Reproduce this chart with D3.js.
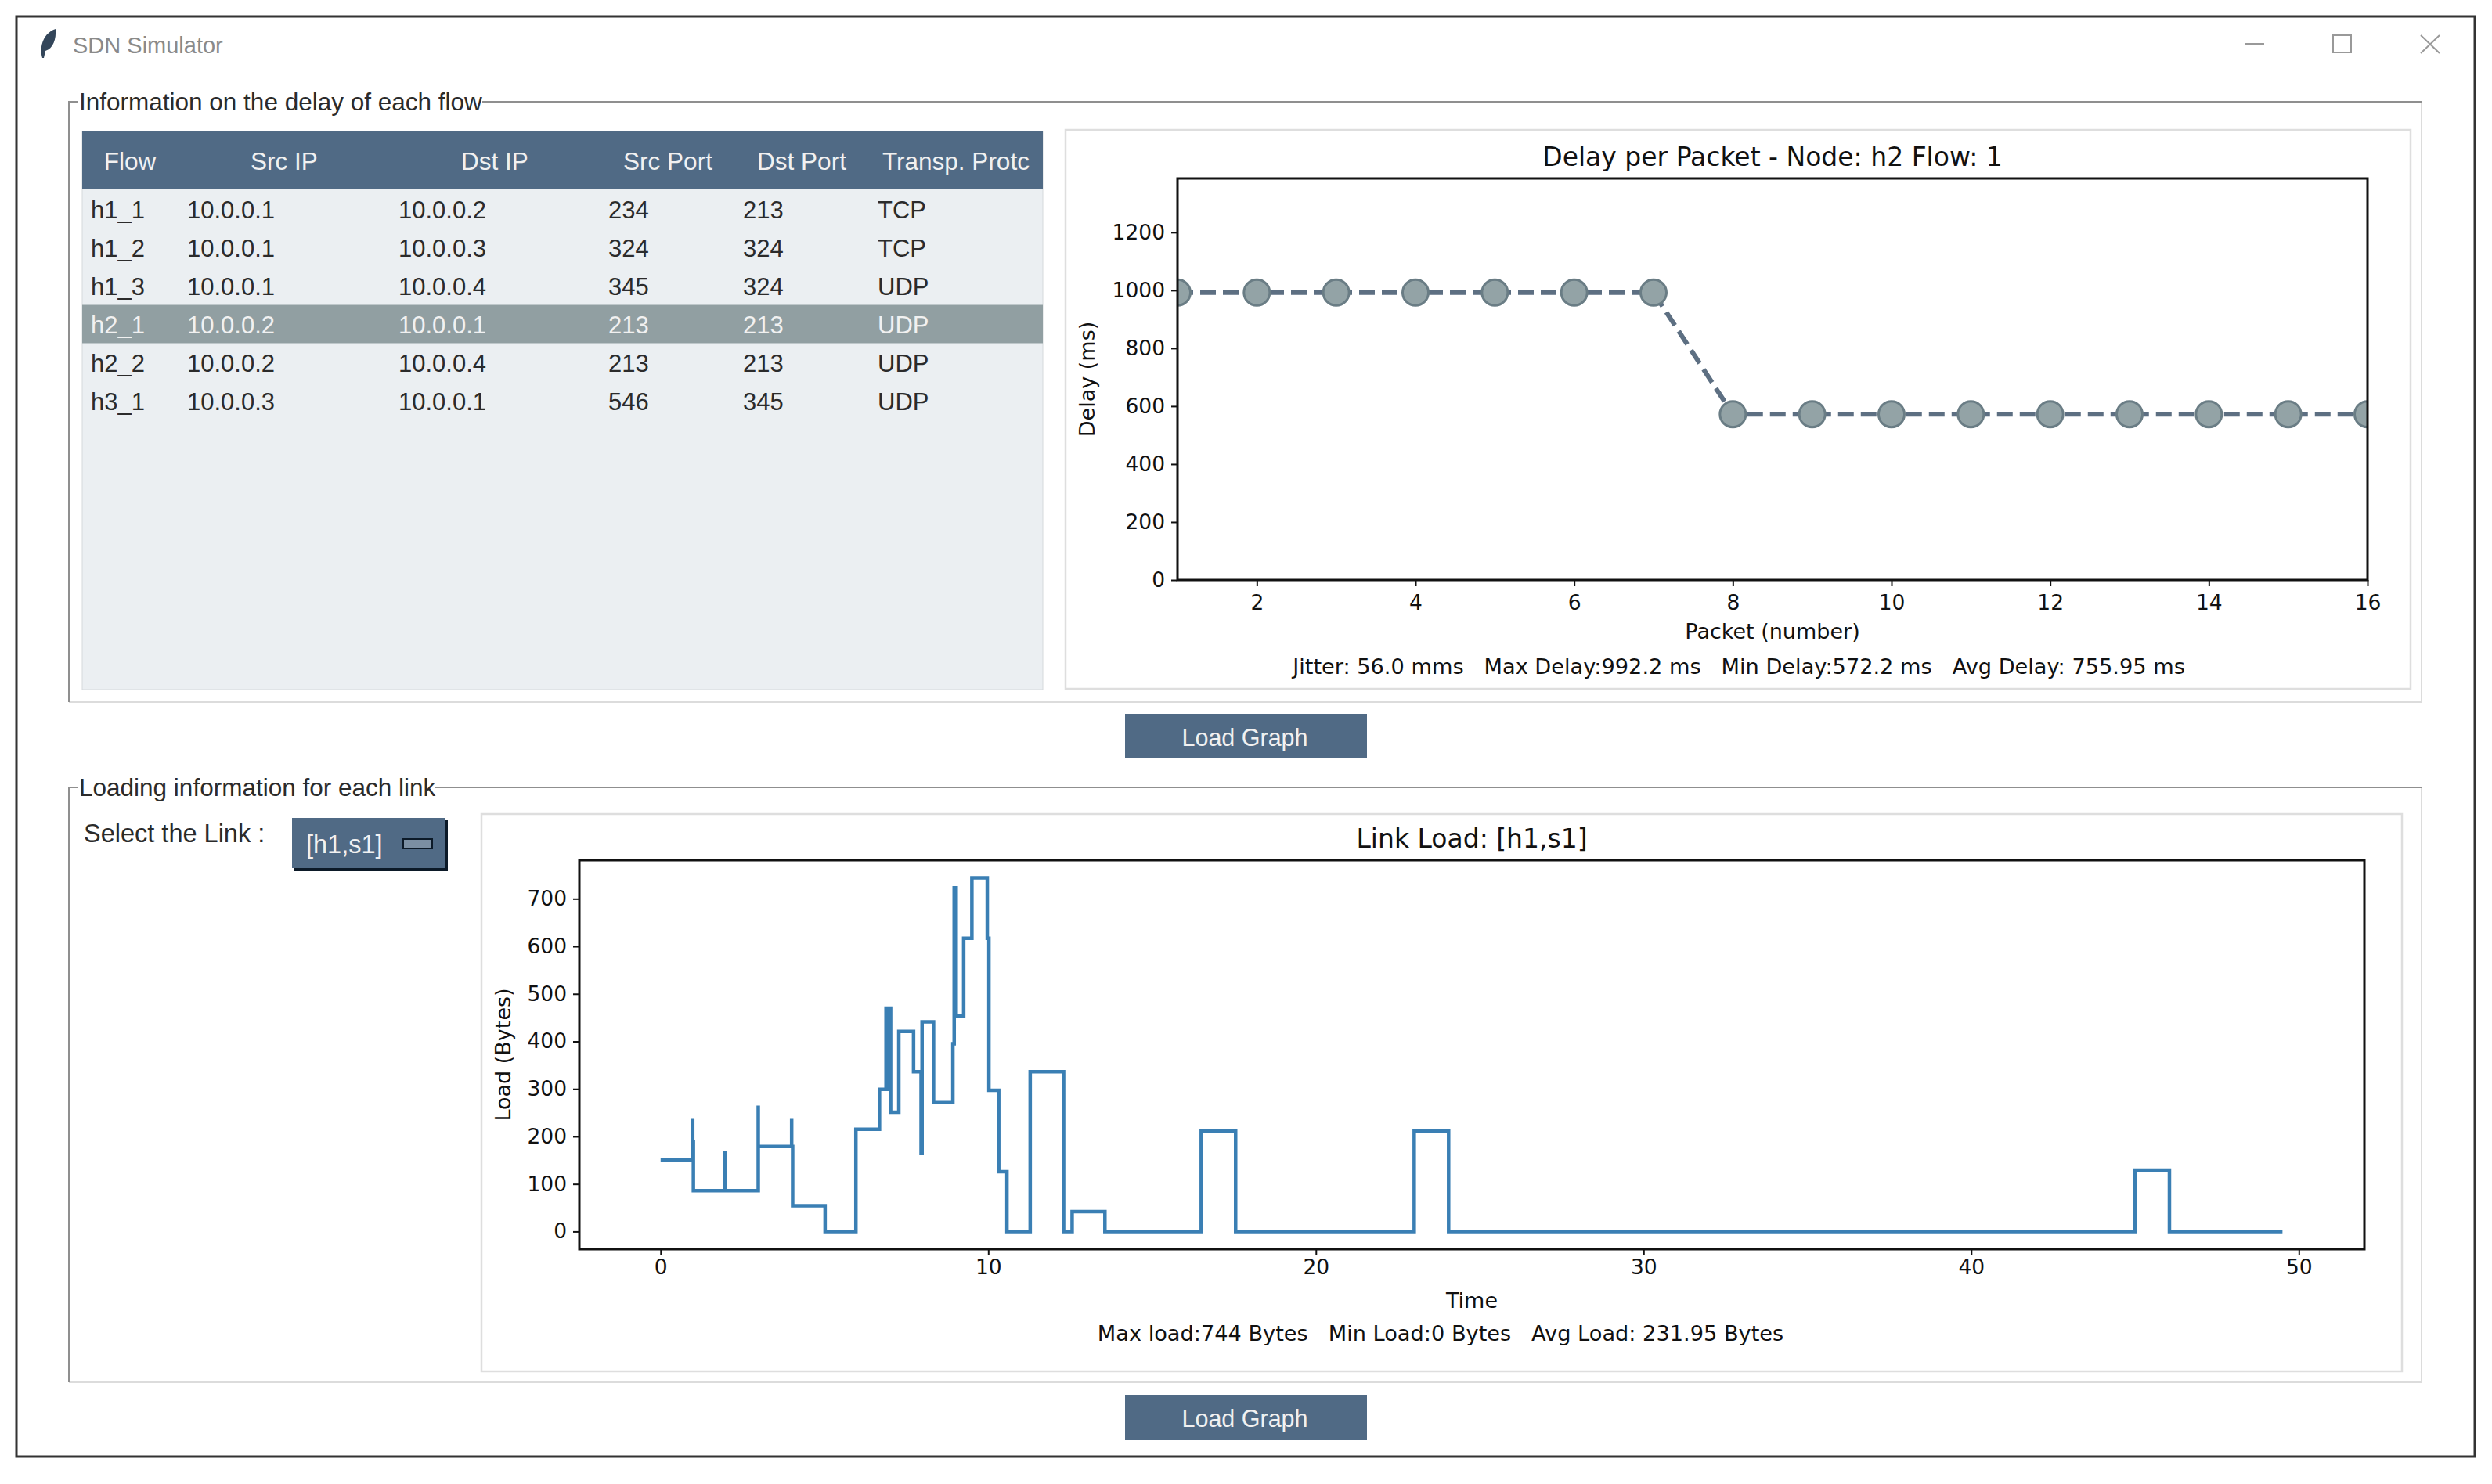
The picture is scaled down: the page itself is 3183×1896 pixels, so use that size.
<!DOCTYPE html>
<html>
<head>
<meta charset="utf-8">
<title>SDN Simulator</title>
<script src="https://cdn.jsdelivr.net/npm/d3@7"></script>
<style>
  html, body { margin: 0; padding: 0; background: #fff; overflow: hidden; }
  svg { display: block; }
  .ui { font-family: "Liberation Sans", Arial, sans-serif; }
  .mpl { font-family: "DejaVu Sans", sans-serif; fill: #111; }
</style>
</head>
<body>
<script>
// table
const tableColumns = ["Flow", "Src IP", "Dst IP", "Src Port", "Dst Port", "Transp. Protc"];
const tableRows = [
  ["h1_1", "10.0.0.1", "10.0.0.2", "234", "213", "TCP"],
  ["h1_2", "10.0.0.1", "10.0.0.3", "324", "324", "TCP"],
  ["h1_3", "10.0.0.1", "10.0.0.4", "345", "324", "UDP"],
  ["h2_1", "10.0.0.2", "10.0.0.1", "213", "213", "UDP"],
  ["h2_2", "10.0.0.2", "10.0.0.4", "213", "213", "UDP"],
  ["h3_1", "10.0.0.3", "10.0.0.1", "546", "345", "UDP"]
];
const selectedRow = 3;

// delay chart
const packets = [1, 2, 3, 4, 5, 6, 7, 8, 9, 10, 11, 12, 13, 14, 15, 16];
const delays = [992.2, 992.2, 992.2, 992.2, 992.2, 992.2, 992.2, 572.2, 572.2, 572.2, 572.2, 572.2, 572.2, 572.2, 572.2, 572.2];
const delayXTicks = [2, 4, 6, 8, 10, 12, 14, 16];
const delayYTicks = [0, 200, 400, 600, 800, 1000, 1200];
const delayStats = "Jitter: 56.0 mms   Max Delay:992.2 ms   Min Delay:572.2 ms   Avg Delay: 755.95 ms";

// load chart, drawn as steps
const loadTimes = [0, 0.98, 0.98, 1.0, 1.96, 1.96, 2.98, 2.98, 4.0, 4.0, 4.03, 5.02, 5.96, 6.68, 6.88, 6.92, 6.96, 7.02, 7.27, 7.72, 7.95, 7.98, 8.33, 8.92, 8.96, 9.02, 9.25, 9.5, 9.97, 10.02, 10.32, 10.57, 11.28, 12.3, 12.56, 13.56, 16.5, 17.55, 23.0, 24.05, 45.0, 46.05, 49.5];
const loadValues = [151, 237, 189, 86, 169, 86, 265, 179, 237, 179, 54, 0, 215, 299, 470, 299, 470, 251, 421, 336, 164, 441, 271, 395, 723, 454, 617, 744, 617, 297, 126, 0, 336, 0, 42, 0, 211, 0, 211, 0, 129, 0, 0];
const loadXTicks = [0, 10, 20, 30, 40, 50];
const loadYTicks = [0, 100, 200, 300, 400, 500, 600, 700];
const loadStats = "Max load:744 Bytes   Min Load:0 Bytes   Avg Load: 231.95 Bytes";

const W = 3183, H = 1896;
const svg = d3.select("body").append("svg").attr("width", W).attr("height", H)
  .attr("viewBox", `0 0 ${W} ${H}`);

const headerBlue = "#506a85";
const uiText = "#2b2b2b";

function text(g, x, y, str, size, anchor, fill, cls) {
  return g.append("text")
    .attr("class", cls || "ui")
    .attr("x", x).attr("y", y)
    .attr("dominant-baseline", "central")
    .attr("text-anchor", anchor || "start")
    .attr("font-size", size)
    .attr("fill", fill || uiText)
    .style("white-space", "pre")
    .text(str);
}

// window
svg.append("rect").attr("x", 21).attr("y", 21).attr("width", 3140).attr("height", 1840)
  .attr("fill", "#fff").attr("stroke", "#333").attr("stroke-width", 3);
text(svg, 93, 58, "SDN Simulator", 29, "start", "#8a8a8a");
svg.append("path")
  .attr("d", "M54 74 C50 58 56 42 71 37 C72 50 68 62 58 65 L56 74 Z")
  .attr("fill", "#33465a");
svg.append("path").attr("d", "M2868 56 H2892").attr("stroke", "#999").attr("stroke-width", 2);
svg.append("rect").attr("x", 2980).attr("y", 45).attr("width", 23).attr("height", 22)
  .attr("fill", "none").attr("stroke", "#999").attr("stroke-width", 2);
svg.append("path").attr("d", "M3092 45 L3116 68 M3116 45 L3092 68").attr("stroke", "#999").attr("stroke-width", 2);

// labelled frames
function frame(y0, y1, label, labelW) {
  svg.append("path")
    .attr("d", `M88 ${y1} H3093 V${y0}`)
    .attr("fill", "none").attr("stroke", "#dcdcdc").attr("stroke-width", 2);
  svg.append("path")
    .attr("d", `M100 ${y0} H88 V${y1} M${100 + labelW} ${y0} H3093`)
    .attr("fill", "none").attr("stroke", "#8f8f8f").attr("stroke-width", 2);
  text(svg, 101, y0, label, 31.5);
}
frame(130, 897, "Information on the delay of each flow", 516);
frame(1006, 1766, "Loading information for each link", 456);

function button(y0, y1) {
  svg.append("rect").attr("x", 1437).attr("y", y0).attr("width", 309).attr("height", y1 - y0)
    .attr("fill", headerBlue);
  text(svg, 1590, (y0 + y1) / 2 + 1, "Load Graph", 30.5, "middle", "#f1f1f1");
}
button(912, 969);
button(1782, 1840);

// table
const tableX = 105, tableW = 1227, headerY = 168, headerH = 74, bodyBottom = 881;
const colText = [116, 239, 509, 777, 949, 1121];
const colHead = [166, 363, 632, 853, 1024, 1127];
const rowY = d3.scaleBand().domain(d3.range(tableRows.length)).range([242, 242 + 49 * tableRows.length]);

svg.append("clipPath").attr("id", "tableClip").append("rect")
  .attr("x", tableX).attr("y", headerY).attr("width", tableW - 17).attr("height", bodyBottom - headerY);
svg.append("rect").attr("x", tableX).attr("y", headerY).attr("width", tableW).attr("height", bodyBottom - headerY)
  .attr("fill", "#ebeff2").attr("stroke", "#d5d9dc");
svg.append("rect").attr("x", tableX).attr("y", headerY).attr("width", tableW).attr("height", headerH)
  .attr("fill", headerBlue);
const heads = svg.append("g").attr("clip-path", "url(#tableClip)");
tableColumns.forEach((c, i) => {
  text(heads, colHead[i], headerY + headerH / 2 + 1, c, 31.5, i === 5 ? "start" : "middle", "#f1f1f1");
});
svg.append("g").selectAll("rect").data(tableRows).join("rect")
  .attr("x", tableX).attr("width", tableW)
  .attr("y", (d, i) => rowY(i) + 0.5).attr("height", rowY.bandwidth())
  .attr("fill", (d, i) => i === selectedRow ? "#919fa2" : "none");
svg.append("g").selectAll("g").data(tableRows).join("g")
  .attr("transform", (d, i) => `translate(0, ${rowY(i) + rowY.bandwidth() / 2 + 1.5})`)
  .each(function (row, i) {
    row.forEach((c, j) => {
      text(d3.select(this), colText[j], 0, c, 31, "start", i === selectedRow ? "#f1f1f1" : uiText);
    });
  });

// panel with axes around a plot, shared by both charts
function panel(box, plot, x, y, xTicks, yTicks, xPad, title, xLabel, yLabel, yLabelX, stats, statsX, statsY) {
  svg.append("rect").attr("x", box[0]).attr("y", box[1])
    .attr("width", box[2] - box[0]).attr("height", box[3] - box[1])
    .attr("fill", "#fff").attr("stroke", "#dedede").attr("stroke-width", 2.5);
  const g = svg.append("g").attr("class", "mpl");
  g.append("g").attr("transform", `translate(0, ${plot.bottom})`)
    .call(d3.axisBottom(x).tickValues(xTicks).tickSize(8).tickPadding(xPad).tickFormat(d3.format("d")));
  g.append("g").attr("transform", `translate(${plot.left}, 0)`)
    .call(d3.axisLeft(y).tickValues(yTicks).tickSize(8).tickPadding(8).tickFormat(d3.format("d")));
  g.selectAll(".domain").remove();
  g.selectAll(".tick line").attr("stroke", "#111").attr("stroke-width", 2);
  g.selectAll(".tick text").attr("font-family", "DejaVu Sans").attr("font-size", 26.5).attr("fill", "#111");
  text(g, (plot.left + plot.right) / 2, plot.top - 28, title, 33, "middle", "#111", "mpl");
  text(g, (plot.left + plot.right) / 2, plot.bottom + 65, xLabel, 27, "middle", "#111", "mpl");
  text(g, 0, 0, yLabel, 27, "middle", "#111", "mpl")
    .attr("transform", `translate(${yLabelX}, ${(plot.top + plot.bottom) / 2}) rotate(-90)`);
  text(g, statsX, statsY, stats, 27.2, "middle", "#111", "mpl");
  return g;
}

function frameOnTop(plot) {
  svg.append("rect").attr("x", plot.left).attr("y", plot.top)
    .attr("width", plot.right - plot.left).attr("height", plot.bottom - plot.top)
    .attr("fill", "none").attr("stroke", "#111").attr("stroke-width", 3);
}

// delay chart
const dp = { left: 1504, right: 3024, top: 228, bottom: 741 };
const dx = d3.scaleLinear().domain([1, 16]).range([dp.left, dp.right]);
const dy = d3.scaleLinear().domain([0, 1386]).range([dp.bottom, dp.top]);
panel([1361, 166, 3079, 880], dp, dx, dy, delayXTicks, delayYTicks, 11,
  "Delay per Packet - Node: h2 Flow: 1", "Packet (number)", "Delay (ms)", 1388,
  delayStats, 2221, 851);

svg.append("clipPath").attr("id", "delayClip").append("rect")
  .attr("x", dp.left).attr("y", dp.top).attr("width", dp.right - dp.left).attr("height", dp.bottom - dp.top);
const delayG = svg.append("g").attr("clip-path", "url(#delayClip)");
delayG.append("path")
  .datum(packets.map((p, i) => [p, delays[i]]))
  .attr("d", d3.line().x(d => dx(d[0])).y(d => dy(d[1])))
  .attr("fill", "none").attr("stroke", "#5d6f82").attr("stroke-width", 6)
  .attr("stroke-dasharray", "20 9");
delayG.selectAll("circle").data(packets).join("circle")
  .attr("cx", d => dx(d)).attr("cy", (d, i) => dy(delays[i])).attr("r", 16.5)
  .attr("fill", "#93a3a6").attr("stroke", "#6a7d85").attr("stroke-width", 3);
frameOnTop(dp);

// load chart
text(svg, 107, 1065, "Select the Link :", 32.5);
svg.append("rect").attr("x", 376).attr("y", 1048).attr("width", 196).attr("height", 65).attr("fill", "#0c1a28");
svg.append("rect").attr("x", 373).attr("y", 1045).attr("width", 195).attr("height", 64).attr("fill", headerBlue);
text(svg, 391, 1079, "[h1,s1]", 32.5, "start", "#f1f1f1");
svg.append("rect").attr("x", 515).attr("y", 1072).attr("width", 37).attr("height", 12)
  .attr("fill", "#7b8fa3").attr("stroke", "#0c1a28").attr("stroke-width", 2);

const lp = { left: 740, right: 3020, top: 1099, bottom: 1596 };
const lx = d3.scaleLinear().domain([-2.48, 52]).range([lp.left, lp.right]);
const ly = d3.scaleLinear().domain([-37.2, 781.2]).range([lp.bottom, lp.top]);
panel([615, 1040, 3068, 1752], lp, lx, ly, loadXTicks, loadYTicks, 5,
  "Link Load: [h1,s1]", "Time", "Load (Bytes)", 642,
  loadStats, 1840, 1703);

svg.append("path")
  .datum(loadTimes.map((t, i) => [t, loadValues[i]]))
  .attr("d", d3.line().x(d => lx(d[0])).y(d => ly(d[1])).curve(d3.curveStepAfter))
  .attr("fill", "none").attr("stroke", "#3a7fb4").attr("stroke-width", 4.5);
frameOnTop(lp);
</script>
</body>
</html>
